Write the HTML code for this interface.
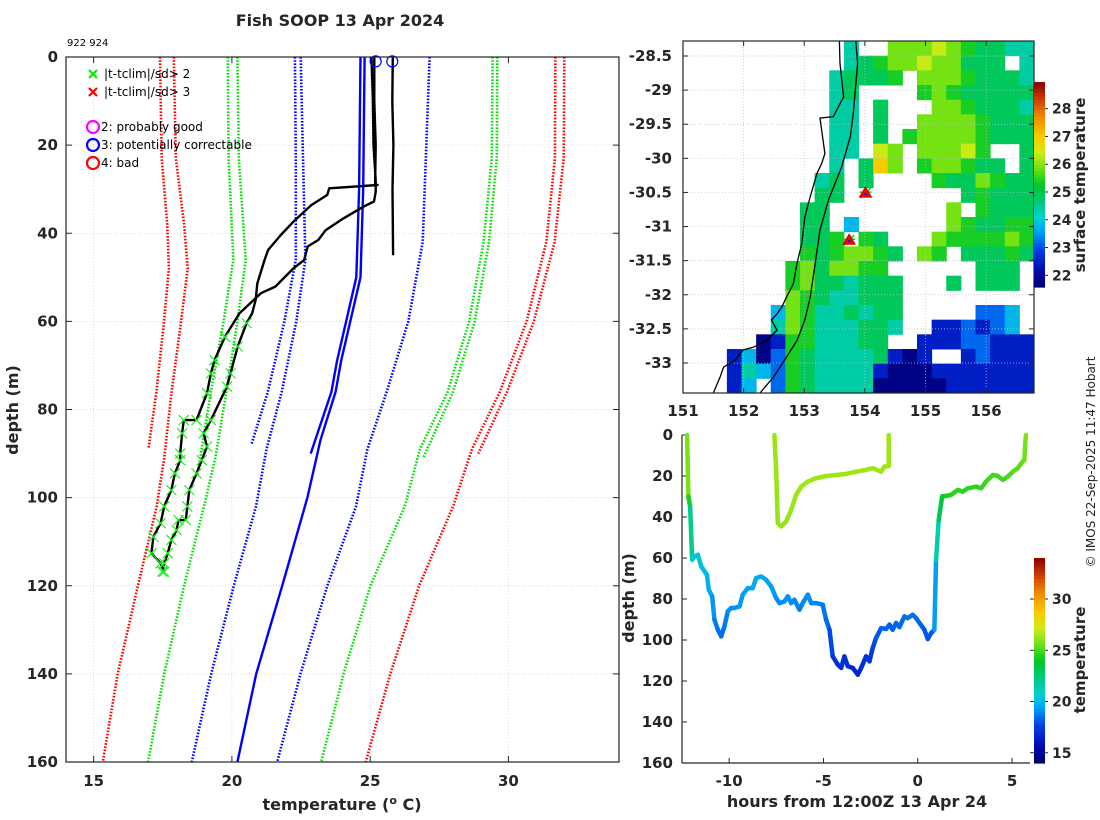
<!DOCTYPE html>
<html><head><meta charset="utf-8">
<style>
html,body{margin:0;padding:0;background:#fff;}
svg{display:block;font-family:"DejaVu Sans","Liberation Sans",sans-serif;}
.tk{font-size:15px;font-weight:bold;fill:#262626;}
.lab{font-size:16px;font-weight:bold;fill:#262626;}
.leg{font-size:12px;fill:#000;}
</style></head>
<body>
<svg id="fig" width="1100" height="820" viewBox="0 0 1100 820">
<text x="340" y="26" text-anchor="middle" class="lab">Fish SOOP 13 Apr 2024</text>
<text x="67" y="46" style="font-size:10px">922 924</text>
<text transform="translate(1095,462) rotate(-90)" text-anchor="middle" style="font-size:12px;fill:#222">© IMOS 22-Sep-2025 11:47 Hobart</text>
<g id="left"></g>
<g id="map"></g>
<g id="track"></g>
</svg>
<script>
// ===== Profile plot data (temperature °C, depth m) =====
const profTicksX = [15, 20, 25, 30];
const profTicksY = [0, 20, 40, 60, 80, 100, 120, 140, 160];
const r1D = [0, 23, 38, 48, 61, 76, 89];
const r1T = [17.4, 17.46, 17.66, 17.72, 17.53, 17.27, 16.98];
const r2D = [0, 23, 38, 48, 61, 76, 91, 102, 120, 140, 160];
const r2T = [17.9, 17.97, 18.27, 18.4, 18.14, 17.82, 17.55, 17.28, 16.6, 15.87, 15.33];
const g1D = [0, 23, 46, 60, 76, 95];
const g1T = [19.85, 19.88, 20.05, 19.7, 19.24, 18.75];
const g2D = [0, 23, 46, 60, 76, 91, 102, 120, 140, 160];
const g2T = [20.2, 20.25, 20.5, 20.2, 19.8, 19.4, 18.99, 18.27, 17.55, 16.97];
const b1D = [0, 23, 46, 60, 76, 88];
const b1T = [22.28, 22.31, 22.31, 21.9, 21.3, 20.7];
const b2D = [0, 23, 46, 60, 76, 89, 102, 120, 140, 160];
const b2T = [22.49, 22.57, 22.66, 22.33, 21.8, 21.25, 20.87, 20.07, 19.25, 18.55];
const sb1D = [0, 30, 50, 69, 76, 90];
const sb1T = [24.65, 24.6, 24.5, 23.8, 23.6, 22.85];
const sb2D = [0, 30, 50, 69, 76, 87, 100, 120, 140, 160];
const sb2T = [24.8, 24.75, 24.65, 23.95, 23.75, 23.2, 22.73, 21.82, 20.88, 20.2];
const b3D = [0, 42, 60, 76, 89, 102, 120, 140, 160];
const b3T = [27.15, 26.9, 26.38, 25.6, 24.9, 24.49, 23.45, 22.48, 21.64];
const g3D = [0, 23, 42, 60, 76, 89, 102, 120, 140, 160];
const g3T = [29.43, 29.4, 29.1, 28.58, 27.8, 26.8, 26.25, 25.01, 24.04, 23.23];
const g4D = [0, 23, 42, 60, 76, 91];
const g4T = [29.6, 29.58, 29.3, 28.78, 28.0, 26.92];
const r3D = [0, 23, 42, 60, 76, 89, 102, 120, 140, 160];
const r3T = [31.7, 31.68, 31.37, 30.66, 29.69, 28.68, 28.0, 26.77, 25.73, 24.84];
const r4D = [0, 23, 42, 60, 76, 90];
const r4T = [32.02, 32.0, 31.67, 30.92, 29.95, 28.91];
// black observed profiles
const p0D = [0, 10, 20, 30, 45];
const p0T = [25.82, 25.8, 25.84, 25.81, 25.83];
const p1D = [0, 10, 20, 29, 29.05, 29.8, 31.3, 33.6, 37.4, 40.4, 43.8, 46.1, 51.4, 55.1, 58.2, 60.4, 65.7, 71.8, 74.8, 82.4, 85.4, 88.4, 91.5, 94.5, 98.3, 102, 105.1, 105.1, 107.4, 109.6, 112.6, 114.9, 116.8];
const p1T = [25.15, 25.15, 25.2, 25.18, 25.27, 23.52, 23.45, 22.87, 22.22, 21.77, 21.31, 21.18, 20.92, 20.86, 20.73, 20.53, 20.21, 19.95, 19.82, 19.24, 18.98, 19.1, 18.91, 18.72, 18.46, 18.39, 18.33, 18.07, 18.0, 17.81, 17.68, 17.55, 17.48];
const p2D = [0, 10, 20, 28, 30.6, 32.8, 34, 36.6, 39.3, 41.5, 43, 46.1, 48, 52.1, 53.6, 55.5, 58.2, 63.5, 68.8, 71.8, 76.3, 82.4, 82.4, 85.4, 90, 91.5, 94.5, 98.3, 102, 105.8, 108.9, 112.6, 114.9, 116.8];
const p2T = [25.05, 25.1, 25.12, 25.2, 25.2, 25.14, 24.75, 24.04, 23.39, 23.13, 22.74, 22.61, 22.22, 21.57, 21.05, 20.73, 20.27, 19.75, 19.37, 19.24, 19.1, 18.72, 18.26, 18.2, 18.13, 18.13, 17.94, 17.81, 17.55, 17.42, 17.16, 17.09, 17.42, 17.55];
const qcCircT = [25.2, 25.8];
const qcCircD = [1, 1];

// ===== Map data =====
const mapLonTicks = [151, 152, 153, 154, 155, 156];
const mapLatTicks = [-28.5, -29, -29.5, -30, -30.5, -31, -31.5, -32, -32.5, -33];
const sstTicks = [22, 23, 24, 25, 26, 27, 28];
const sstCodes = {A: 21.8, B: 22.5, C: 23.2, D: 23.8, E: 24.4, F: 24.9, G: 25.4, H: 25.9, I: 26.4, J: 27.0};
const sstRows = [
"...........E..HHHIHGFFEE",
"...........EFGHHIHHFFF.E",
"..........EFFFG.HHHGFFFE",
"..........EF....GHGFFFFF",
"..........EE.F...HHGFFFE",
"..........EE.F..HHHHGFFF",
"..........EE.F.GHHHHGFFF",
"..........EE.IH.HHHIG..F",
"..........E.FJH.GHHGFF.F",
".........EF.F....GFFHGFF",
".........FF........FGFFF",
"........FF........H.GFFF",
"........FF.D......HGFFGG",
"........FFG.GF...HGGGGHG",
"........GFGHHGF.HG.FFFGF",
".......GHFHHGG......FFF.",
".......GHFFEFFF...F.FFF.",
".......HGFEEFFF.........",
"......DHGEEFEFF.....CCD.",
"......EHGEEEFFE..BBCBCD.",
".....ABGGEEEFF..BBBCCBBB",
"...BDACGFEEEEFBAB..BCBBB",
"...BEDCGFEEEEBAAABBBBBBB",
"...BD.CGFEEEEAAAAABBBBBB"];
const coastLon = [153.58,153.59,153.65,153.48,153.26,153.34,153.29,153.21,153.10,153.01,152.96,152.88,152.82,152.71,152.63,152.55,152.46,152.55,152.38,152.16,151.99,151.86,151.67,151.61,151.50];
const coastLat = [-28.28,-28.61,-29.10,-29.39,-29.41,-29.93,-30.07,-30.22,-30.56,-30.86,-31.25,-31.54,-31.84,-32.03,-32.18,-32.28,-32.37,-32.52,-32.67,-32.77,-32.81,-32.96,-33.06,-33.21,-33.44];
const isoLon = [153.85,153.88,153.81,153.76,153.62,153.40,153.26,153.18,153.10,153.01,152.88,152.71,152.49,152.27];
const isoLat = [-28.28,-28.61,-29.34,-29.68,-30.12,-30.61,-31.05,-31.54,-32.03,-32.37,-32.67,-32.91,-33.21,-33.44];
const stnLon = [154.01, 153.74];
const stnLat = [-30.51, -31.20];

// ===== Depth-time track data =====
const trkTicksX = [-10, -5, 0, 5];
const trkTicksY = [0, 20, 40, 60, 80, 100, 120, 140, 160];
const trkCbTicks = [15, 20, 25, 30];
const aH = [-12.23,-12.16,-12.07,-11.96,-11.84,-11.66,-11.48,-11.18,-11.08,-10.90,-10.78,-10.60,-10.42,-10.25,-10.07,-9.89,-9.72,-9.45,-9.28,-9.01,-8.75,-8.57,-8.30,-8.04,-7.77,-7.51,-7.33,-7.07,-6.89,-6.71,-6.54,-6.27,-6.10,-5.83,-5.65,-5.39,-5.04,-4.86,-4.68,-4.51,-4.24,-4.06,-3.89,-3.71,-3.45,-3.18,-3.00,-2.74,-2.56,-2.39,-2.21,-1.94,-1.68,-1.50,-1.33,-1.15,-0.97,-0.71,-0.53,-0.27,-0.09,0.09,0.35,0.53,0.71,0.88,0.97,1.11,1.29,1.50,1.77,2.12,2.39,2.65,3.09,3.36,3.62,3.98,4.24,4.51,4.77,5.04,5.30,5.48,5.65,5.71,5.74];
const aD = [0,30,34.9,60.9,59.3,58.4,64.1,68.2,75.5,78.7,90.1,95,98.2,93.3,86,84.4,84.4,83.6,77.9,74.7,74.7,69.8,69,70.6,73.9,79.5,82,81.2,78.7,82,80.4,85.2,82,77.9,82,82,82.8,90.1,95,108,112,113.6,108,112.8,113.6,116.9,113.6,108,110.4,103.9,99,94.2,94.6,92.5,95,91.7,93.7,88.5,89.3,87.7,89.3,91.7,95,99.5,96.6,95,60.9,41.4,30,29.7,29.2,26.8,27.6,26,25.2,26,22.7,19.5,20,21.9,20.3,17.9,16.2,13.8,12.2,2.4,0];
const aT = [26.2,25.3,23.5,20.6,20.6,20.5,20.3,20.1,19.8,19.5,18.9,18.6,18.4,18.6,19.0,19.1,19.1,19.2,19.4,19.5,19.5,19.7,19.7,19.6,19.5,19.2,19.0,19.1,19.2,19.0,19.1,18.8,19.0,19.2,19.0,19.0,18.9,18.5,18.2,17.4,17.0,16.9,17.3,17.0,16.9,16.6,16.9,17.3,17.1,17.6,18.0,18.3,18.3,18.4,18.2,18.4,18.3,18.6,18.5,18.6,18.5,18.4,18.2,17.9,18.1,18.2,20.5,22.5,24.0,24.3,24.5,24.6,24.6,24.7,24.7,24.7,24.9,25.0,25.0,24.9,25.0,25.2,25.3,25.4,25.5,25.8,25.9];
const bH = [-7.60,-7.51,-7.42,-7.24,-6.98,-6.71,-6.45,-6.18,-5.83,-5.39,-4.86,-4.33,-3.80,-3.27,-2.74,-2.39,-1.94,-1.77,-1.54,-1.54];
const bD = [0,17,43,44.6,42.2,36.5,29.2,25.2,22.7,21.1,20,19.5,19,17.9,17,16.2,17.9,15.4,15.1,0];
const bT = [26.3,26.3,26.2,26.2,26.2,26.3,26.3,26.4,26.4,26.4,26.4,26.4,26.4,26.4,26.4,26.4,26.4,26.4,26.4,26.4];

// ===== helpers =====
const NS = 'http://www.w3.org/2000/svg';
function mk(parent, tag, attrs) {
  const e = document.createElementNS(NS, tag);
  for (const k in attrs) e.setAttribute(k, attrs[k]);
  parent.appendChild(e);
  return e;
}
const stops = [[0,[0,0,110]],[0.08,[0,10,170]],[0.18,[0,60,230]],[0.27,[0,160,250]],[0.34,[0,210,210]],[0.42,[0,200,120]],[0.5,[0,200,40]],[0.58,[110,225,20]],[0.66,[210,235,20]],[0.74,[250,200,0]],[0.84,[240,130,0]],[0.93,[200,50,0]],[1,[140,0,0]]];
function cmap(t) {
  t = Math.max(0, Math.min(1, t));
  for (let i = 1; i < stops.length; i++) {
    if (t <= stops[i][0]) {
      const a = stops[i-1], b = stops[i], f = (t - a[0]) / (b[0] - a[0]);
      const c = a[1].map((v, j) => Math.round(v + (b[1][j] - v) * f));
      return 'rgb(' + c.join(',') + ')';
    }
  }
  return 'rgb(140,0,0)';
}
function pathD(xs, ys) { return xs.map((x, i) => (i ? 'L' : 'M') + x.toFixed(1) + ' ' + ys[i].toFixed(1)).join(''); }

// ===== Profile plot =====
(function(){
  const g = document.getElementById('left');
  const X0 = 66, X1 = 619, Y0 = 57, Y1 = 762;
  const xS = T => X0 + (T - 14) / 20 * (X1 - X0);
  const yS = d => Y0 + d / 160 * (Y1 - Y0);
  profTicksX.forEach(t => {
    const l = mk(g, 'line', {x1: xS(t), x2: xS(t), y1: Y0, y2: Y1, stroke: '#c4cbe8', 'stroke-width': 0.8, 'stroke-dasharray': '1,2'});
    
    
    mk(g, 'line', {x1: xS(t), x2: xS(t), y1: Y1, y2: Y1 - 6, stroke: '#262626'});
    mk(g, 'line', {x1: xS(t), x2: xS(t), y1: Y0, y2: Y0 + 6, stroke: '#262626'});
    const tx = mk(g, 'text', {x: xS(t), y: 786, 'text-anchor': 'middle', class: 'tk'});
    tx.textContent = t;
    
    
  });
  profTicksY.forEach(t => {
    const l = mk(g, 'line', {x1: X0, x2: X1, y1: yS(t), y2: yS(t), stroke: '#dcc8b8', 'stroke-width': 0.8, 'stroke-dasharray': '1,2'});
    
    
    mk(g, 'line', {x1: X0, x2: X0 + 6, y1: yS(t), y2: yS(t), stroke: '#262626'});
    mk(g, 'line', {x1: X1, x2: X1 - 6, y1: yS(t), y2: yS(t), stroke: '#262626'});
    const tx = mk(g, 'text', {x: 58, y: yS(t) + 5, 'text-anchor': 'end', class: 'tk'});
    tx.textContent = t;
    
    
  });
  const clims = [[r1T,r1D,'#ff0000'],[r2T,r2D,'#ff0000'],[g1T,g1D,'#00e000'],[g2T,g2D,'#00e000'],[b1T,b1D,'#0000ff'],[b2T,b2D,'#0000ff'],[b3T,b3D,'#0000ff'],[g3T,g3D,'#00e000'],[g4T,g4D,'#00e000'],[r3T,r3D,'#ff0000'],[r4T,r4D,'#ff0000']];
  clims.forEach(c => {
    const p = mk(g, 'path', {d: pathD(c[0].map(xS), c[1].map(yS)), fill: 'none', stroke: c[2], 'stroke-width': 2.6, 'stroke-dasharray': '1.6,1.6'});
    
    
  });
  [[sb1T,sb1D],[sb2T,sb2D]].forEach(c => {
    const p = mk(g, 'path', {d: pathD(c[0].map(xS), c[1].map(yS)), fill: 'none', stroke: '#0000ff', 'stroke-width': 2.4});
    
    
  });
  [[p1T,p1D],[p2T,p2D],[p0T,p0D]].forEach(c => {
    const p = mk(g, 'path', {d: pathD(c[0].map(xS), c[1].map(yS)), fill: 'none', stroke: '#000', 'stroke-width': 2.4, 'stroke-linejoin': 'round'});
    
    
  });
  [[p1T,p1D],[p2T,p2D]].forEach(c => {
    c[1].forEach((d, i) => {
      if (d < 59) return;
      const x = xS(c[0][i]), y = yS(d);
      const m = mk(g, 'path', {d: `M${x-5} ${y-5}L${x+5} ${y+5}M${x-5} ${y+5}L${x+5} ${y-5}`, stroke: '#22ee22', 'stroke-width': 1.2});
      
      
    });
  });
  qcCircT.forEach((t, i) => {
    const c = mk(g, 'circle', {cx: xS(t), cy: yS(qcCircD[i]), r: 5.5, fill: 'none', stroke: '#0000ff', 'stroke-width': 1.2});
    
    
  });
  const box = mk(g, 'rect', {x: X0, y: Y0, width: X1 - X0, height: Y1 - Y0, fill: 'none', stroke: '#262626', 'stroke-width': 1.2});
  
  
  const lg = mk(g, 'g', {});
  
  
  const xm = [['#00ee00', 74, '|t-tclim|/sd> 2'], ['#ff0000', 92, '|t-tclim|/sd> 3']];
  xm.forEach(e => {
    const y = e[1];
    mk(lg, 'path', {d: `M89 ${y-4}L97 ${y+4}M89 ${y+4}L97 ${y-4}`, stroke: e[0], 'stroke-width': 2.2});
    const t = mk(lg, 'text', {x: 104, y: y + 4, class: 'leg'});
    t.textContent = e[2];
    
    
  });
  const cm = [['#ff00ff', 127, '2: probably good'], ['#0000ff', 145, '3: potentially correctable'], ['#ff0000', 163, '4: bad']];
  cm.forEach(e => {
    mk(lg, 'circle', {cx: 93, cy: e[1], r: 6, fill: 'none', stroke: e[0], 'stroke-width': 2.2});
    const t = mk(lg, 'text', {x: 101, y: e[1] + 4, class: 'leg'});
    t.textContent = e[2];
    
    
  });
  const xl = mk(g, 'text', {x: 342, y: 810, 'text-anchor': 'middle', class: 'lab'});
  xl.innerHTML = 'temperature (<tspan dy="-6" style="font-size:11px">o</tspan><tspan dy="6"> C)</tspan>';
  
  
  const yl = mk(g, 'text', {transform: 'translate(18,410) rotate(-90)', 'text-anchor': 'middle', class: 'lab'});
  yl.textContent = 'depth (m)';
  
  
})();

// ===== Map =====
(function(){
  const g = document.getElementById('map');
  const X0 = 683, X1 = 1034, Y0 = 41, Y1 = 393;
  const LON0 = 151, LON1 = 156.79, LAT0 = -28.28, LAT1 = -33.44;
  const mx = lon => X0 + (lon - LON0) / (LON1 - LON0) * (X1 - X0);
  const my = lat => Y0 + (LAT0 - lat) / (LAT0 - LAT1) * (Y1 - Y0);
  const S0 = 21.58, S1 = 28.96;
  const nR = sstRows.length, nC = sstRows[0].length;
  const dLon = (LON1 - LON0) / nC, dLat = (LAT0 - LAT1) / nR;
  sstRows.forEach((row, r) => {
    for (let c = 0; c < nC; c++) {
      const ch = row[c];
      if (!(ch in sstCodes)) continue;
      const x = mx(LON0 + c * dLon), y = my(LAT0 - r * dLat);
      const cell = mk(g, 'rect', {x: x, y: y, width: mx(LON0 + (c + 1) * dLon) - x + 0.5, height: my(LAT0 - (r + 1) * dLat) - y + 0.5, fill: cmap((sstCodes[ch] - S0) / (S1 - S0))});
      
      
    }
  });
  mapLonTicks.forEach(t => {
    mk(g, 'line', {x1: mx(t), x2: mx(t), y1: Y0, y2: Y1, stroke: '#b8c0e0', 'stroke-width': 0.7, 'stroke-dasharray': '1,2'});
    mk(g, 'line', {x1: mx(t), x2: mx(t), y1: Y1, y2: Y1 - 5, stroke: '#262626'});
    mk(g, 'line', {x1: mx(t), x2: mx(t), y1: Y0, y2: Y0 + 5, stroke: '#262626'});
    const tx = mk(g, 'text', {x: mx(t), y: 416, 'text-anchor': 'middle', class: 'tk'});
    tx.textContent = t;
    
    
  });
  mapLatTicks.forEach(t => {
    mk(g, 'line', {x1: X0, x2: X1, y1: my(t), y2: my(t), stroke: '#b8c0e0', 'stroke-width': 0.7, 'stroke-dasharray': '1,2'});
    mk(g, 'line', {x1: X0, x2: X0 + 5, y1: my(t), y2: my(t), stroke: '#262626'});
    mk(g, 'line', {x1: X1, x2: X1 - 5, y1: my(t), y2: my(t), stroke: '#262626'});
    const tx = mk(g, 'text', {x: 672, y: my(t) + 5, 'text-anchor': 'end', class: 'tk'});
    tx.textContent = t;
    
    
  });
  const coast = mk(g, 'path', {d: pathD(coastLon.map(mx), coastLat.map(my)), fill: 'none', stroke: '#000', 'stroke-width': 1.3});
  
  
  const iso = mk(g, 'path', {d: pathD(isoLon.map(mx), isoLat.map(my)), fill: 'none', stroke: '#000', 'stroke-width': 1.3});
  
  
  stnLon.forEach((lon, i) => {
    const x = mx(lon), y = my(stnLat[i]);
    mk(g, 'path', {d: `M${x-6} ${y-1}L${x+6} ${y-1}M${x-5} ${y+5}L${x+5} ${y-5}`, stroke: '#00dd00', 'stroke-width': 1.5});
    const tri = mk(g, 'path', {d: `M${x} ${y-6}L${x+6} ${y+4}L${x-6} ${y+4}Z`, fill: '#ff0000', stroke: '#cc0000', 'stroke-width': 1});
    
    
    mk(g, 'circle', {cx: x, cy: y + 1, r: 1.3, fill: '#0000ff'});
  });
  const box = mk(g, 'rect', {x: X0, y: Y0, width: X1 - X0, height: Y1 - Y0, fill: 'none', stroke: '#262626', 'stroke-width': 1.2});
  
  
  const CB0 = 82, CB1 = 287;
  const cy = t => CB1 - (t - S0) / (S1 - S0) * (CB1 - CB0);
  const cb = mk(g, 'g', {});
  
  
  for (let i = 0; i < 60; i++) {
    const y = CB1 - (i + 1) * (CB1 - CB0) / 60;
    mk(cb, 'rect', {x: 1034, y: y, width: 11, height: (CB1 - CB0) / 60 + 0.6, fill: cmap((i + 0.5) / 60)});
  }
  sstTicks.forEach(t => {
    mk(cb, 'line', {x1: 1045, x2: 1048, y1: cy(t), y2: cy(t), stroke: '#262626'});
    const tx = mk(cb, 'text', {x: 1052, y: cy(t) + 5, class: 'tk', style: 'font-size:14px'});
    tx.textContent = t;
    
    
  });
  const cl = mk(g, 'text', {transform: 'translate(1085,185) rotate(-90)', 'text-anchor': 'middle', class: 'lab', style: 'font-size:15px'});
  cl.textContent = 'surface temperature';
  
  
})();

// ===== Depth-time track =====
(function(){
  const g = document.getElementById('track');
  const X0 = 682, X1 = 1030, Y0 = 435, Y1 = 763;
  const H0 = -12.5, H1 = 5.95;
  const hx = h => X0 + (h - H0) / (H1 - H0) * (X1 - X0);
  const dy = d => Y0 + d / 160 * (Y1 - Y0);
  const T0 = 14, T1 = 34;
  trkTicksX.forEach(t => {
    mk(g, 'line', {x1: hx(t), x2: hx(t), y1: Y1, y2: Y1 - 5, stroke: '#262626'});
    const tx = mk(g, 'text', {x: hx(t), y: 786, 'text-anchor': 'middle', class: 'tk'});
    tx.textContent = t;
    
    
  });
  trkTicksY.forEach(t => {
    mk(g, 'line', {x1: X0, x2: X0 + 5, y1: dy(t), y2: dy(t), stroke: '#262626'});
    const tx = mk(g, 'text', {x: 673, y: dy(t) + 5, 'text-anchor': 'end', class: 'tk'});
    tx.textContent = t;
    
    
  });
  mk(g, 'line', {x1: X0, x2: X0, y1: Y0, y2: Y1, stroke: '#262626', 'stroke-width': 1.2});
  mk(g, 'line', {x1: X0, x2: X1, y1: Y1, y2: Y1, stroke: '#262626', 'stroke-width': 1.2});
  [[aH, aD, aT], [bH, bD, bT]].forEach(s => {
    const seg = mk(g, 'g', {});
    
    
    for (let i = 1; i < s[0].length; i++) {
      mk(seg, 'line', {x1: hx(s[0][i-1]), y1: dy(s[1][i-1]), x2: hx(s[0][i]), y2: dy(s[1][i]), stroke: cmap(((s[2][i-1] + s[2][i]) / 2 - T0) / (T1 - T0)), 'stroke-width': 4.5, 'stroke-linecap': 'round'});
    }
  });
  const CB0 = 558, CB1 = 763;
  const cy = t => CB1 - (t - T0) / (T1 - T0) * (CB1 - CB0);
  const cb = mk(g, 'g', {});
  
  
  for (let i = 0; i < 60; i++) {
    const y = CB1 - (i + 1) * (CB1 - CB0) / 60;
    mk(cb, 'rect', {x: 1034, y: y, width: 11, height: (CB1 - CB0) / 60 + 0.6, fill: cmap((i + 0.5) / 60)});
  }
  trkCbTicks.forEach(t => {
    mk(cb, 'line', {x1: 1030, x2: 1034, y1: cy(t), y2: cy(t), stroke: '#262626'});
    mk(cb, 'line', {x1: 1045, x2: 1048, y1: cy(t), y2: cy(t), stroke: '#262626'});
    const tx = mk(cb, 'text', {x: 1052, y: cy(t) + 5, class: 'tk', style: 'font-size:14px'});
    tx.textContent = t;
    
    
  });
  const cl = mk(g, 'text', {transform: 'translate(1085,660) rotate(-90)', 'text-anchor': 'middle', class: 'lab', style: 'font-size:15px'});
  cl.textContent = 'temperature';
  
  
  const xl = mk(g, 'text', {x: 857, y: 807, 'text-anchor': 'middle', class: 'lab'});
  xl.textContent = 'hours from 12:00Z 13 Apr 24';
  
  
  const yl = mk(g, 'text', {transform: 'translate(634,598) rotate(-90)', 'text-anchor': 'middle', class: 'lab'});
  yl.textContent = 'depth (m)';
  
  
})();
</script>
</body></html>
